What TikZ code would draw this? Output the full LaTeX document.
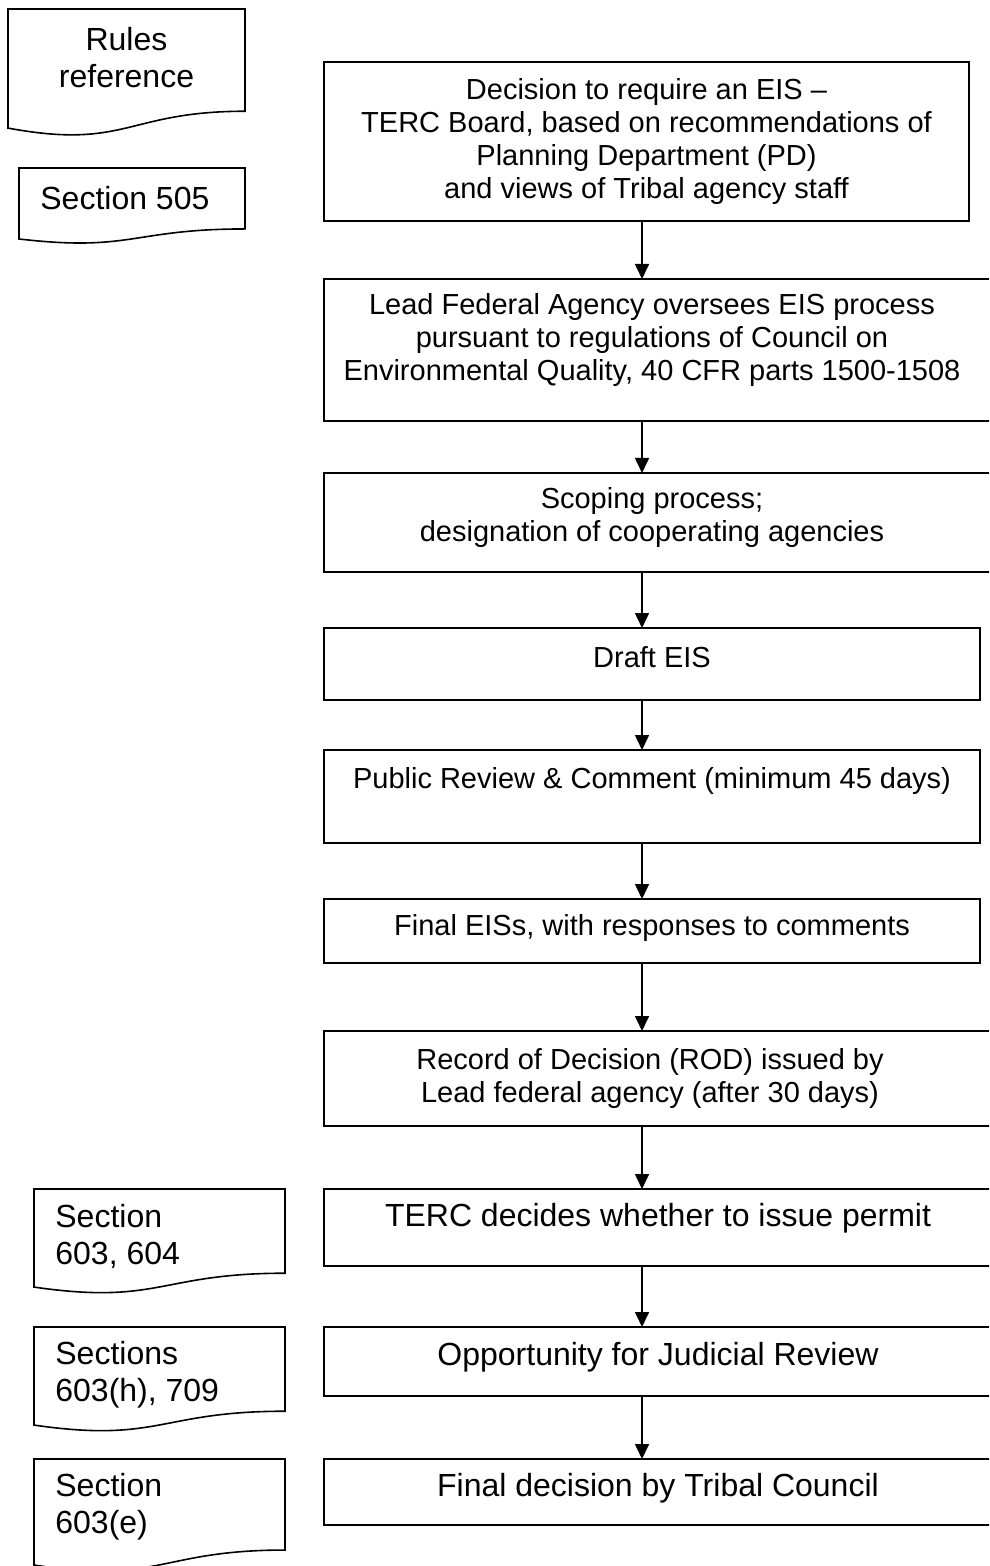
\documentclass[tikz,border=0pt]{standalone}
\usepackage{fontspec}
\setmainfont{Liberation Sans}
\usetikzlibrary{arrows.meta}
\newcommand{\stepfont}{\fontsize{14.5pt}{16.5pt}\selectfont}
\newcommand{\largestep}{\fontsize{16pt}{18.4pt}\selectfont}

\begin{document}
\begin{tikzpicture}
    [x=0.5pt, y=-0.5pt,
     stepbox/.style={draw, line width=0.8pt, inner sep=0pt, outer sep=0pt},
     steptext/.style={align=center, inner sep=0pt, font=\stepfont},
     bigtext/.style={align=center, inner sep=0pt, font=\largestep},
     reftext/.style={align=left, inner sep=0pt, anchor=west, font=\largestep},
     flow/.style={->, >={Triangle[length=7.5pt, width=7pt]}, line width=0.8pt}]
    \useasboundingbox (0,0) rectangle (989,1566);
    \clip (0,0) rectangle (989,1566);

    % rule references: left/top/width/height
    \foreach \lx/\ly/\lw/\lh in {8/9/237/127.5, 19/168/226/76, 34/1189/251/105, 34/1327/251/105, 34/1459/251/113.5}
    {
      \draw[line width=0.8pt] (\lx,\ly) -- ({\lx+\lw},\ly) -- ({\lx+\lw},{\ly+0.802*\lh})
        .. controls ({\lx+0.5*\lw},{\ly+0.802*\lh}) and ({\lx+0.5*\lw},{\ly+1.107*\lh}) .. (\lx,{\ly+0.934*\lh}) -- cycle;
    }

    \node[bigtext] (rules) at (126.5,57.5) {Rules\\reference};
    \node[reftext] (sec505) at (40,198) {Section 505};
    \node[reftext] (sec604) at (55,1236.5) {Section\\603, 604};
    \node[reftext] (sec709) at (55,1375) {Sections\\603(h), 709};
    \node[reftext] (sec603e) at (55,1506.5) {Section\\603(e)};

    % process steps
    \node[stepbox, minimum width=322.5pt, minimum height=79.5pt] (dec) at (646.5,141.5) {};
    \node[stepbox, minimum width=334pt, minimum height=71pt] (lead) at (658,350) {};
    \node[stepbox, minimum width=334pt, minimum height=49.5pt] (scope) at (658,522.5) {};
    \node[stepbox, minimum width=328pt, minimum height=36pt] (draft) at (652,664) {};
    \node[stepbox, minimum width=328pt, minimum height=46.5pt] (public) at (652,796.5) {};
    \node[stepbox, minimum width=328pt, minimum height=32pt] (finaleis) at (652,931) {};
    \node[stepbox, minimum width=334pt, minimum height=47.5pt] (rod) at (658,1078.5) {};
    \node[stepbox, minimum width=334pt, minimum height=38.5pt] (terc) at (658,1227.5) {};
    \node[stepbox, minimum width=334pt, minimum height=34.5pt] (judicial) at (658,1361.5) {};
    \node[stepbox, minimum width=334pt, minimum height=33pt] (final) at (658,1492) {};

    \node[steptext] (tdec) at (646.5,141.5) {Decision to require an EIS --\\TERC Board, based on recommendations of\\Planning Department (PD)\\and views of Tribal agency staff};
    \node[steptext] (tlead) at (652,340) {Lead Federal Agency oversees EIS process\\pursuant to regulations of Council on\\Environmental Quality, 40 CFR parts 1500-1508};
    \node[steptext] (tscope) at (652,518) {Scoping process;\\designation of cooperating agencies};
    \node[steptext] (tdraft) at (652,657) {Draft EIS};
    \node[steptext] (tpublic) at (652,781) {Public Review \& Comment (minimum 45 days)};
    \node[steptext] (tfinaleis) at (652,928) {Final EISs, with responses to comments};
    \node[steptext] (trod) at (650,1078.5) {Record of Decision (ROD) issued by\\Lead federal agency (after 30 days)};
    \node[bigtext] (tterc) at (658,1218) {TERC decides whether to issue permit};
    \node[bigtext] (tjudicial) at (658,1357) {Opportunity for Judicial Review};
    \node[bigtext] (tfinal) at (658,1488) {Final decision by Tribal Council};

    \coordinate (spine) at (642,0);
    \foreach \a/\b in {dec/lead, lead/scope, scope/draft, draft/public, public/finaleis, finaleis/rod, rod/terc, terc/judicial, judicial/final}
    {
      \draw[flow] (\a.south -| spine) -- (\b.north -| spine);
    }
  \end{tikzpicture}
\end{document}
